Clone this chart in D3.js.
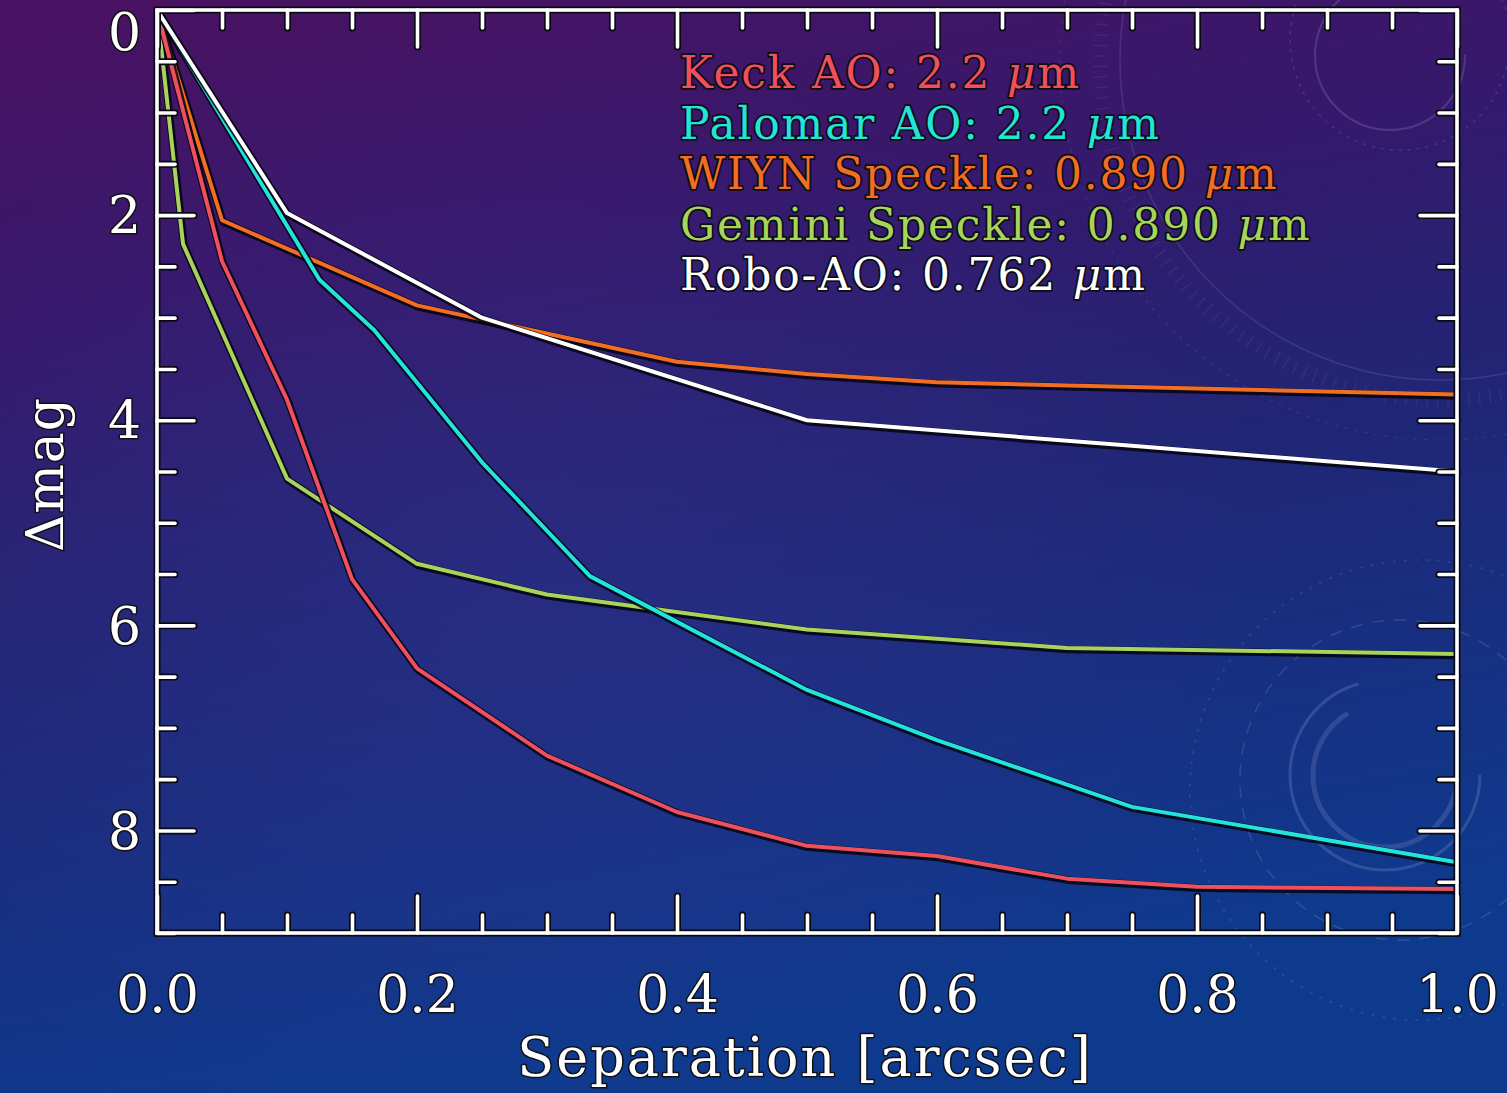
<!DOCTYPE html>
<html>
<head>
<meta charset="utf-8">
<script src="https://cdn.jsdelivr.net/npm/d3@7"></script>
<style>
  html, body { margin: 0; padding: 0; background: #1a2a7a; }
  svg { display: block; }
  text { font-family: "DejaVu Serif", "Liberation Serif", serif; }
</style>
</head>
<body>
<svg id="chart" width="1507" height="1093"></svg>
<script>
// Contrast curves: limiting magnitude difference vs. separation
const instruments = ["Keck AO", "Palomar AO", "WIYN Speckle", "Gemini Speckle", "Robo-AO"];
const wavelengths = ["2.2", "2.2", "0.890", "0.890", "0.762"];
const colors = ["#f0505e", "#22e4dc", "#f26e22", "#a9d45c", "#ffffff"];

const sepKeck = [0, 0.05, 0.1, 0.15, 0.2, 0.3, 0.4, 0.5, 0.6, 0.7, 0.8, 1.0];
const dmagKeck = [0, 2.45, 3.8, 5.55, 6.42, 7.27, 7.82, 8.15, 8.25, 8.47, 8.55, 8.57];

const sepPalomar = [0, 0.125, 0.167, 0.25, 0.333, 0.5, 0.6, 0.75, 1.0];
const dmagPalomar = [0, 2.63, 3.12, 4.41, 5.52, 6.63, 7.12, 7.77, 8.31];

const sepWiyn = [0, 0.05, 0.2, 0.4, 0.5, 0.6, 1.0];
const dmagWiyn = [0, 2.05, 2.88, 3.43, 3.55, 3.63, 3.75];

const sepGemini = [0, 0.02, 0.1, 0.2, 0.3, 0.5, 0.7, 1.0];
const dmagGemini = [0, 2.28, 4.57, 5.4, 5.7, 6.04, 6.22, 6.28];

const sepRobo = [0, 0.1, 0.25, 0.5, 0.75, 1.0];
const dmagRobo = [0, 1.98, 3.0, 4.0, 4.25, 4.5];

const xMajorTicks = [0, 0.2, 0.4, 0.6, 0.8, 1.0];
const xTickLabels = ["0.0", "0.2", "0.4", "0.6", "0.8", "1.0"];
const yMajorTicks = [0, 2, 4, 6, 8];
const yTickLabels = ["0", "2", "4", "6", "8"];

const series = [
  { name: instruments[0], wl: wavelengths[0], color: colors[0], sep: sepKeck, dmag: dmagKeck },
  { name: instruments[1], wl: wavelengths[1], color: colors[1], sep: sepPalomar, dmag: dmagPalomar },
  { name: instruments[2], wl: wavelengths[2], color: colors[2], sep: sepWiyn, dmag: dmagWiyn },
  { name: instruments[3], wl: wavelengths[3], color: colors[3], sep: sepGemini, dmag: dmagGemini },
  { name: instruments[4], wl: wavelengths[4], color: colors[4], sep: sepRobo, dmag: dmagRobo }
];

const W = 1507, H = 1093;
const svg = d3.select("#chart");
const defs = svg.append("defs");

// Background: purple at the top fading into deep blue
const bg = defs.append("linearGradient").attr("id", "bg")
  .attr("x1", "0").attr("y1", "0").attr("x2", "0.25").attr("y2", "1");
[["0%", "#4b1262"], ["28%", "#37186b"], ["58%", "#202676"], ["100%", "#0e3a8e"]]
  .forEach(([o, c]) => bg.append("stop").attr("offset", o).attr("stop-color", c));
svg.append("rect").attr("width", W).attr("height", H).attr("fill", "url(#bg)");

const glow = defs.append("radialGradient").attr("id", "glow").attr("cx", "0.35").attr("cy", "0.55").attr("r", "0.5");
glow.append("stop").attr("offset", "0%").attr("stop-color", "#3a3a9a").attr("stop-opacity", 0.3);
glow.append("stop").attr("offset", "100%").attr("stop-color", "#3a3a9a").attr("stop-opacity", 0);
svg.append("rect").attr("width", W).attr("height", H).attr("fill", "url(#glow)");

// Faint ornamental rings on the right side
const deco = svg.append("g").attr("fill", "none").attr("stroke", "#c8c8f0");
deco.append("circle").attr("cx", 1390).attr("cy", 55).attr("r", 75).attr("stroke-width", 2).attr("opacity", 0.18)
  .attr("stroke-dasharray", "300 170");
deco.append("circle").attr("cx", 1400).attr("cy", 40).attr("r", 110).attr("stroke-width", 1.5).attr("opacity", 0.15)
  .attr("stroke-dasharray", "3 6");
deco.append("circle").attr("cx", 1440).attr("cy", 60).attr("r", 320).attr("stroke-width", 1.5).attr("opacity", 0.14);
deco.append("circle").attr("cx", 1440).attr("cy", 60).attr("r", 340).attr("stroke-width", 14).attr("opacity", 0.08)
  .attr("stroke-dasharray", "1.5 9");
deco.append("circle").attr("cx", 1440).attr("cy", 60).attr("r", 380).attr("stroke-width", 1.2).attr("opacity", 0.12)
  .attr("stroke-dasharray", "3 7");
deco.append("circle").attr("cx", 1385).attr("cy", 775).attr("r", 95).attr("stroke-width", 3).attr("opacity", 0.18)
  .attr("stroke-dasharray", "420 180");
deco.append("circle").attr("cx", 1385).attr("cy", 775).attr("r", 72).attr("stroke-width", 5).attr("opacity", 0.16)
  .attr("stroke-dasharray", "300 160");
deco.append("circle").attr("cx", 1400).attr("cy", 780).attr("r", 160).attr("stroke-width", 1.5).attr("opacity", 0.16)
  .attr("stroke-dasharray", "12 10");
deco.append("circle").attr("cx", 1420).attr("cy", 790).attr("r", 230).attr("stroke-width", 2).attr("opacity", 0.12)
  .attr("stroke-dasharray", "3 8");

// Plot scales
const x = d3.scaleLinear().domain([0, 1]).range([157, 1457]);
const y = d3.scaleLinear().domain([0, 9]).range([10, 933]);

const x0 = x.range()[0], x1 = x.range()[1], y0 = y.range()[0], y1 = y.range()[1];
const xMinor = d3.range(0, 1.0001, 0.05).filter(v => !xMajorTicks.some(m => Math.abs(m - v) < 1e-6));
const yMinor = d3.range(0, 9.0001, 0.5).filter(v => !yMajorTicks.some(m => Math.abs(m - v) < 1e-6));
const MAJ = 37, MIN = 18;

// Curves
const line = d3.line().x(d => x(d[0])).y(d => y(d[1]));
const drawOrder = [3, 2, 0, 1, 4];
const curves = svg.append("g");
drawOrder.forEach(i => {
  const s = series[i];
  const pts = s.sep.map((v, k) => [v, s.dmag[k]]);
  curves.append("path").datum(pts).attr("d", line)
    .attr("fill", "none").attr("stroke", "#050510").attr("stroke-width", 7.5)
    .attr("stroke-opacity", 0.85).attr("stroke-linejoin", "round")
    .attr("transform", "translate(1,1.5)");
  curves.append("path").datum(pts).attr("d", line)
    .attr("fill", "none").attr("stroke", s.color).attr("stroke-width", 4)
    .attr("stroke-linejoin", "round");
});

// Frame and inward ticks, drawn once as a dark outline and once in white
function drawAxes(stroke, width) {
  const g = svg.append("g");
  const specs = [
    [d3.axisBottom(x).tickValues(xMajorTicks).tickSize(-MAJ), `translate(0,${y1})`],
    [d3.axisBottom(x).tickValues(xMinor).tickSize(-MIN), `translate(0,${y1})`],
    [d3.axisTop(x).tickValues(xMajorTicks).tickSize(-MAJ), `translate(0,${y0})`],
    [d3.axisTop(x).tickValues(xMinor).tickSize(-MIN), `translate(0,${y0})`],
    [d3.axisLeft(y).tickValues(yMajorTicks).tickSize(-MAJ), `translate(${x0},0)`],
    [d3.axisLeft(y).tickValues(yMinor).tickSize(-MIN), `translate(${x0},0)`],
    [d3.axisRight(y).tickValues(yMajorTicks).tickSize(-MAJ), `translate(${x1},0)`],
    [d3.axisRight(y).tickValues(yMinor).tickSize(-MIN), `translate(${x1},0)`]
  ];
  specs.forEach(([ax, tr]) => {
    const a = g.append("g").attr("transform", tr).call(ax.tickFormat(""));
    a.select(".domain").remove();
    a.selectAll("text").remove();
    a.selectAll("line").attr("stroke", stroke).attr("stroke-width", width).attr("stroke-linecap", "round");
  });
  g.append("rect").attr("x", x0).attr("y", y0).attr("width", x1 - x0).attr("height", y1 - y0)
    .attr("fill", "none").attr("stroke", stroke).attr("stroke-width", width);
}
drawAxes("#0a0a14", 7);
drawAxes("#ffffff", 3.6);

// Tick labels
const labelStyle = sel => sel.attr("fill", "#ffffff").attr("stroke", "#111118").attr("stroke-width", 3)
  .attr("paint-order", "stroke").attr("stroke-linejoin", "round");

const xl = svg.append("g").attr("transform", `translate(0,${y1})`)
  .call(d3.axisBottom(x).tickValues(xMajorTicks).tickSize(0).tickPadding(42)
    .tickFormat((d, i) => xTickLabels[i]));
xl.select(".domain").remove();
xl.selectAll("text").attr("font-size", 52).attr("font-family", "DejaVu Serif").call(labelStyle);

const yl = svg.append("g").attr("transform", `translate(${x0},0)`)
  .call(d3.axisLeft(y).tickValues(yMajorTicks).tickSize(0).tickPadding(16)
    .tickFormat((d, i) => yTickLabels[i]));
yl.select(".domain").remove();
yl.selectAll("text").attr("font-size", 52).attr("font-family", "DejaVu Serif").call(labelStyle)
  .attr("dy", d => d === 0 ? "0.75em" : "0.34em");

// Axis titles
svg.append("text").attr("x", (x0 + x1) / 2 - 2).attr("y", 1076).attr("text-anchor", "middle")
  .attr("font-size", 54).attr("letter-spacing", 2).text("Separation [arcsec]").call(labelStyle);
svg.append("text").attr("transform", `translate(63,${(y0 + y1) / 2 + 3}) rotate(-90)`)
  .attr("text-anchor", "middle").attr("font-size", 52).attr("letter-spacing", 1)
  .text("\u0394mag").call(labelStyle);

// Legend
const legend = svg.append("g");
series.forEach((s, i) => {
  const t = legend.append("text").attr("x", 680).attr("y", 88 + i * 50.5)
    .attr("font-size", 44).attr("letter-spacing", 1.8)
    .attr("fill", s.color).attr("stroke", "#0c0c14").attr("stroke-width", 3.5)
    .attr("paint-order", "stroke").attr("stroke-linejoin", "round");
  t.append("tspan").text(`${s.name}: ${s.wl} `);
  t.append("tspan").attr("font-style", "italic").text("\u03bc");
  t.append("tspan").text("m");
});
</script>
</body>
</html>
